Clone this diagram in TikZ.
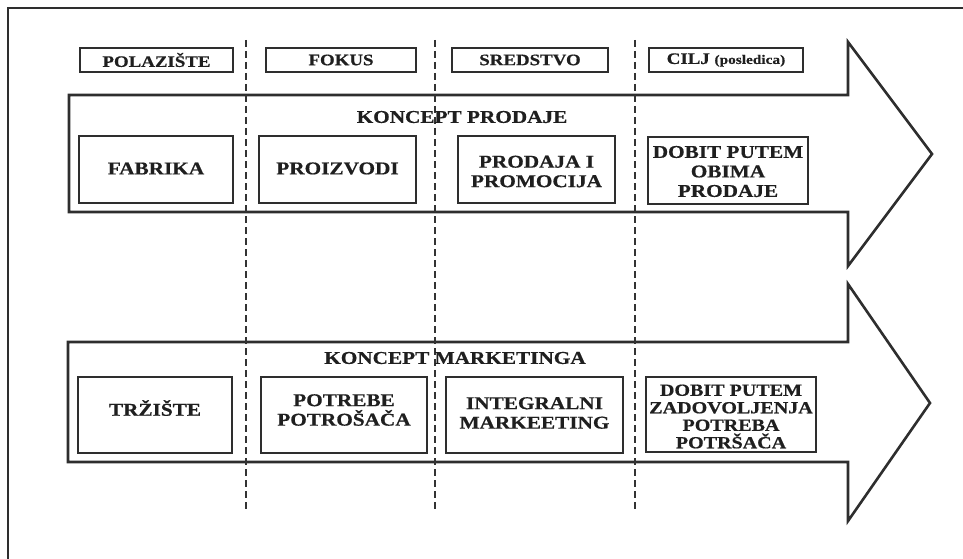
\documentclass[tikz,border=0pt]{standalone}
\usepackage{fontspec}
\setmainfont{Liberation Serif}[FakeStretch=1.18,BoldFeatures={FakeBold=0.6}]
\begin{document}
\begin{tikzpicture}[x=1pt,y=-1pt,
  ink/.style={draw=black!82},
  frame/.style={ink,line width=1.5pt},
  bigarrow/.style={ink,line width=2.6pt,line join=miter},
  sep/.style={draw=black!80,line width=1.1pt,dash pattern=on 7pt off 4pt},
  headbox/.style={ink,line width=1.8pt,inner sep=0pt,align=center,text=black!88,
    font=\bfseries\fontsize{16}{18}\selectfont},
  cellbox/.style={ink,line width=1.9pt,inner sep=0pt},
  celltext/.style={inner sep=0pt,align=center,text=black!88,
    font=\bfseries\fontsize{18}{19.5}\selectfont},
  title/.style={inner sep=0pt,text=black!88,font=\bfseries\fontsize{18}{19}\selectfont}
]
\useasboundingbox (0,0) rectangle (963,559);
% outer frame
\draw[frame] (8,559) -- (8,8) -- (963,8);
% arrows
\draw[bigarrow,fill=white] (69,95) -- (848,95) -- (848,42) -- (932,154) -- (848,266) -- (848,212) -- (69,212) -- cycle;
\draw[bigarrow,fill=white] (68,342) -- (848,342) -- (848,284) -- (930,403) -- (848,521) -- (848,462) -- (68,462) -- cycle;
% dashed separators
\foreach \xx in {246,435,635} {\draw[sep] (\xx,40) -- (\xx,510);}
% headers
\node[headbox,minimum width=153pt,minimum height=24pt] (h1) at (156.5,60) {POLAZIŠTE};
\node[headbox,minimum width=150pt,minimum height=24pt] (h2) at (341,60) {FOKUS};
\node[headbox,minimum width=156pt,minimum height=24pt] (h3) at (530,60) {SREDSTVO};
\node[headbox,minimum width=154pt,minimum height=24pt] (h4) at (726,60) {CILJ {\fontsize{13}{14}\selectfont (posledica)}};
% titles
\node[title] (t1) at (462,117) {KONCEPT PRODAJE};
\node[title] (t2) at (455,358) {KONCEPT MARKETINGA};
% row 1
\node[cellbox,minimum width=154pt,minimum height=67pt] (a1) at (156,169.5) {};
\node[cellbox,minimum width=157pt,minimum height=67pt] (a2) at (337.5,169.5) {};
\node[cellbox,minimum width=157pt,minimum height=67pt] (a3) at (536.5,169.5) {};
\node[cellbox,minimum width=160pt,minimum height=67pt] (a4) at (728,170.5) {};
\node[celltext] (a1t) at ([yshift=1pt]a1.center) {FABRIKA};
\node[celltext] (a2t) at ([yshift=1pt]a2.center) {PROIZVODI};
\node[celltext] (a3t) at ([yshift=-2pt]a3.center) {PRODAJA I\\PROMOCIJA};
\node[celltext] (a4t) at ([yshift=-1pt]a4.center) {DOBIT PUTEM\\OBIMA\\PRODAJE};
% row 2
\node[cellbox,minimum width=154pt,minimum height=76pt] (b1) at (155,415) {};
\node[cellbox,minimum width=166pt,minimum height=76pt] (b2) at (344,415) {};
\node[cellbox,minimum width=177pt,minimum height=76pt] (b3) at (534.5,415) {};
\node[cellbox,minimum width=170pt,minimum height=75pt] (b4) at (731,414.5) {};
\node[celltext] (b1t) at ([yshift=7pt]b1.center) {TRŽIŠTE};
\node[celltext] (b2t) at ([yshift=5pt]b2.center) {POTREBE\\POTROŠAČA};
\node[celltext] (b3t) at ([yshift=2pt]b3.center) {INTEGRALNI\\MARKEETING};
\node[celltext,font=\bfseries\fontsize{17}{17.5}\selectfont] (b4t) at ([yshift=-2pt]b4.center) {DOBIT PUTEM\\ZADOVOLJENJA\\POTREBA\\POTRŠAČA};
\end{tikzpicture}
\end{document}
